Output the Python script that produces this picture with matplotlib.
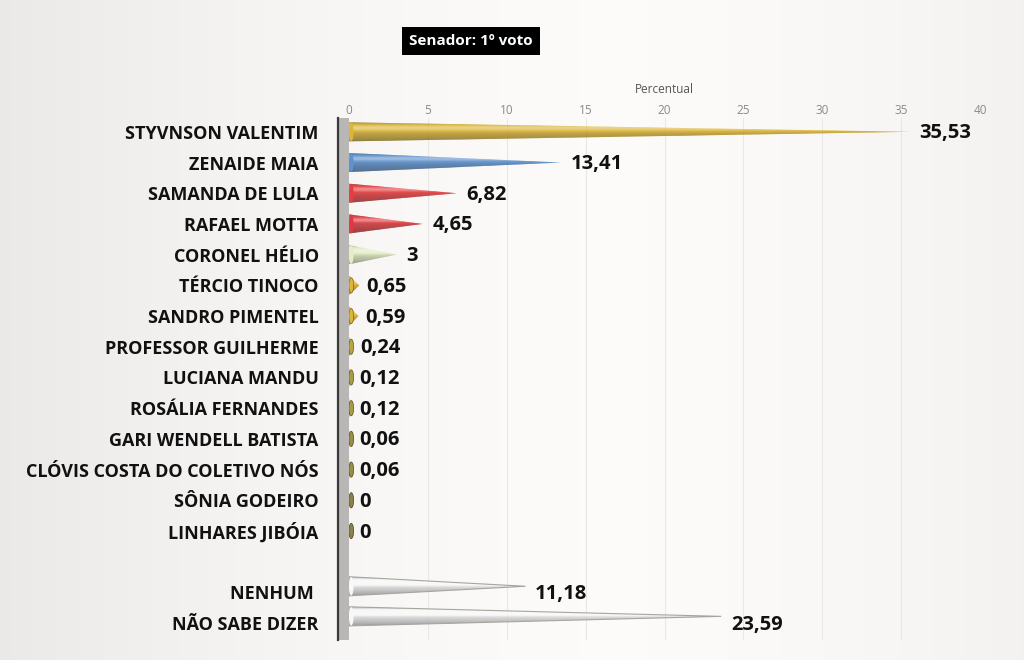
import numpy as np
import matplotlib
matplotlib.use("Agg")
import matplotlib.pyplot as plt
from matplotlib.patches import Polygon, Ellipse, Rectangle
from matplotlib.colors import to_rgb

categories = ["STYVNSON VALENTIM", "ZENAIDE MAIA", "SAMANDA DE LULA", "RAFAEL MOTTA",
              "CORONEL HÉLIO", "TÉRCIO TINOCO", "SANDRO PIMENTEL", "PROFESSOR GUILHERME",
              "LUCIANA MANDU", "ROSÁLIA FERNANDES", "GARI WENDELL BATISTA",
              "CLÓVIS COSTA DO COLETIVO NÓS", "SÔNIA GODEIRO", "LINHARES JIBÓIA",
              "NENHUM ", "NÃO SABE DIZER"]
values = [35.53, 13.41, 6.82, 4.65, 3, 0.65, 0.59, 0.24, 0.12, 0.12, 0.06, 0.06, 0, 0,
          11.18, 23.59]
value_labels = ["35,53", "13,41", "6,82", "4,65", "3", "0,65", "0,59", "0,24", "0,12",
                "0,12", "0,06", "0,06", "0", "0", "11,18", "23,59"]
colors = ["#D6A810", "#3C7CC6", "#E3161A", "#D8141A", "#DDEBB8", "#D9A812", "#D9A812",
          "#A89420", "#988820", "#988820", "#857820", "#857820", "#746A20", "#746A20",
          "#F7F7F7", "#F7F7F7"]
positions = [0, 1, 2, 3, 4, 5, 6, 7, 8, 9, 10, 11, 12, 13, 15, 16]
cone_shift = [0] * 14 + [-0.2, -0.22]
xticks = [0, 5, 10, 15, 20, 25, 30, 35, 40]
title = "Senador: 1º voto"
xlabel = "Percentual"

plt.rcParams['font.family'] = ['Open Sans', 'DejaVu Sans']

fig = plt.figure(figsize=(10.24, 6.6), dpi=100)
fig.patch.set_facecolor("#F3F2F0")

# background gradient
bg = fig.add_axes([0, 0, 1, 1], zorder=-10)
gx = np.linspace(0, 1, 256)
grad = 1 - 0.07 * (np.abs(gx - 0.6) / 0.6) ** 1.6
img = np.dstack([grad * 0.99, grad * 0.985, grad * 0.98])
bg.imshow(np.repeat(img, 10, axis=0), aspect='auto', extent=[0, 1, 0, 1])
bg.axis('off')

ax = fig.add_axes([0.341, 0.0303, 0.616, 0.7909])
ax.set_facecolor("none")
ax.set_xlim(0, 40)
ax.set_ylim(16.55, -0.45)

h = 0.31
N = 30

def shade(base, s):
    # s in [-1, 1], -1 = top
    b = np.array(to_rgb(base))
    light = 0.82 + 0.42 * np.exp(-((s + 0.4) / 0.33) ** 2) - 0.3 * max(s, 0) ** 1.5 \
        - 0.15 * max(-s - 0.75, 0) / 0.25
    if light > 1:
        c = b + (1 - b) * min(light - 1, 1) * 1.5
    else:
        c = b * light
    return np.clip(c, 0, 1)

for v, y0, dy, col in zip(values, positions, cone_shift, colors):
    y = y0 + dy
    edges = np.linspace(-1, 1, N + 1)
    if v > 0:
        for i in range(N):
            s1, s2 = edges[i], edges[i + 1]
            sm = 0.5 * (s1 + s2)
            x1 = v * (1 - abs(s1))
            x2 = v * (1 - abs(s2))
            if s1 < 0 < s2:
                pts = [(0, y + s1 * h), (x1, y + s1 * h), (v, y), (x2, y + s2 * h), (0, y + s2 * h)]
            else:
                pts = [(0, y + s1 * h), (x1, y + s1 * h), (x2, y + s2 * h), (0, y + s2 * h)]
            ax.add_patch(Polygon(pts, closed=True, facecolor=shade(col, sm),
                                 edgecolor='none', zorder=3, antialiased=True))
        if col == "#F7F7F7":
            ax.add_patch(Polygon([(0, y - h), (v, y), (0, y + h)], closed=True,
                                 facecolor='none', edgecolor='#A8A49E', lw=0.8, zorder=4))
    # base ellipse
    big = v >= 1
    ax.add_patch(Ellipse((0.13, y), 0.3, 2 * h * (0.97 if big else 0.8),
                         facecolor=shade(col, -0.2),
                         edgecolor='none' if big else shade(col, 0.8), lw=0.5, zorder=5))

# value labels
for v, y, lab in zip(values, positions, value_labels):
    off = 7 if v >= 1 else 5
    ax.annotate(lab, xy=(max(v, 0.2), y + 0.05), xytext=(off, 0), textcoords='offset points',
                ha='left', va='center', fontsize=14.5, fontweight='bold', color='#111111',
                zorder=6)

# gray wall
ax.add_patch(Rectangle((-0.75, -0.45), 0.75, 17.0, transform=ax.transData,
                       facecolor='#B9B7B5', edgecolor='none', clip_on=False, zorder=2))
ax.plot([-0.72, -0.72], [-0.45, 16.55], color='#3A3A3A', lw=1.6, clip_on=False, zorder=3)

# gridlines
for t in xticks[1:]:
    ax.axvline(t, color='#EAE8E6', lw=0.8, zorder=1)

ax.xaxis.tick_top()
ax.set_xticks(xticks)
ax.set_xticklabels([str(t) for t in xticks], fontsize=8.5, color='#8A8A8A')
ax.tick_params(axis='x', length=0, pad=1)
ax.xaxis.set_label_position('top')
ax.set_xlabel(xlabel, fontsize=8.5, color='#555555', labelpad=8)

ax.set_yticks(positions)
ax.set_yticklabels(categories, fontsize=13, fontweight='bold', color='#111111')
ax.tick_params(axis='y', length=0, pad=22)
for sp in ax.spines.values():
    sp.set_visible(False)

fig.text(0.46, 0.938, title, ha='center', va='center', fontsize=11, fontweight='bold',
         color='white', bbox=dict(boxstyle='square,pad=0.45', facecolor='black',
                                  edgecolor='none'))

fig.savefig("out.png", dpi=100, facecolor=fig.get_facecolor())
